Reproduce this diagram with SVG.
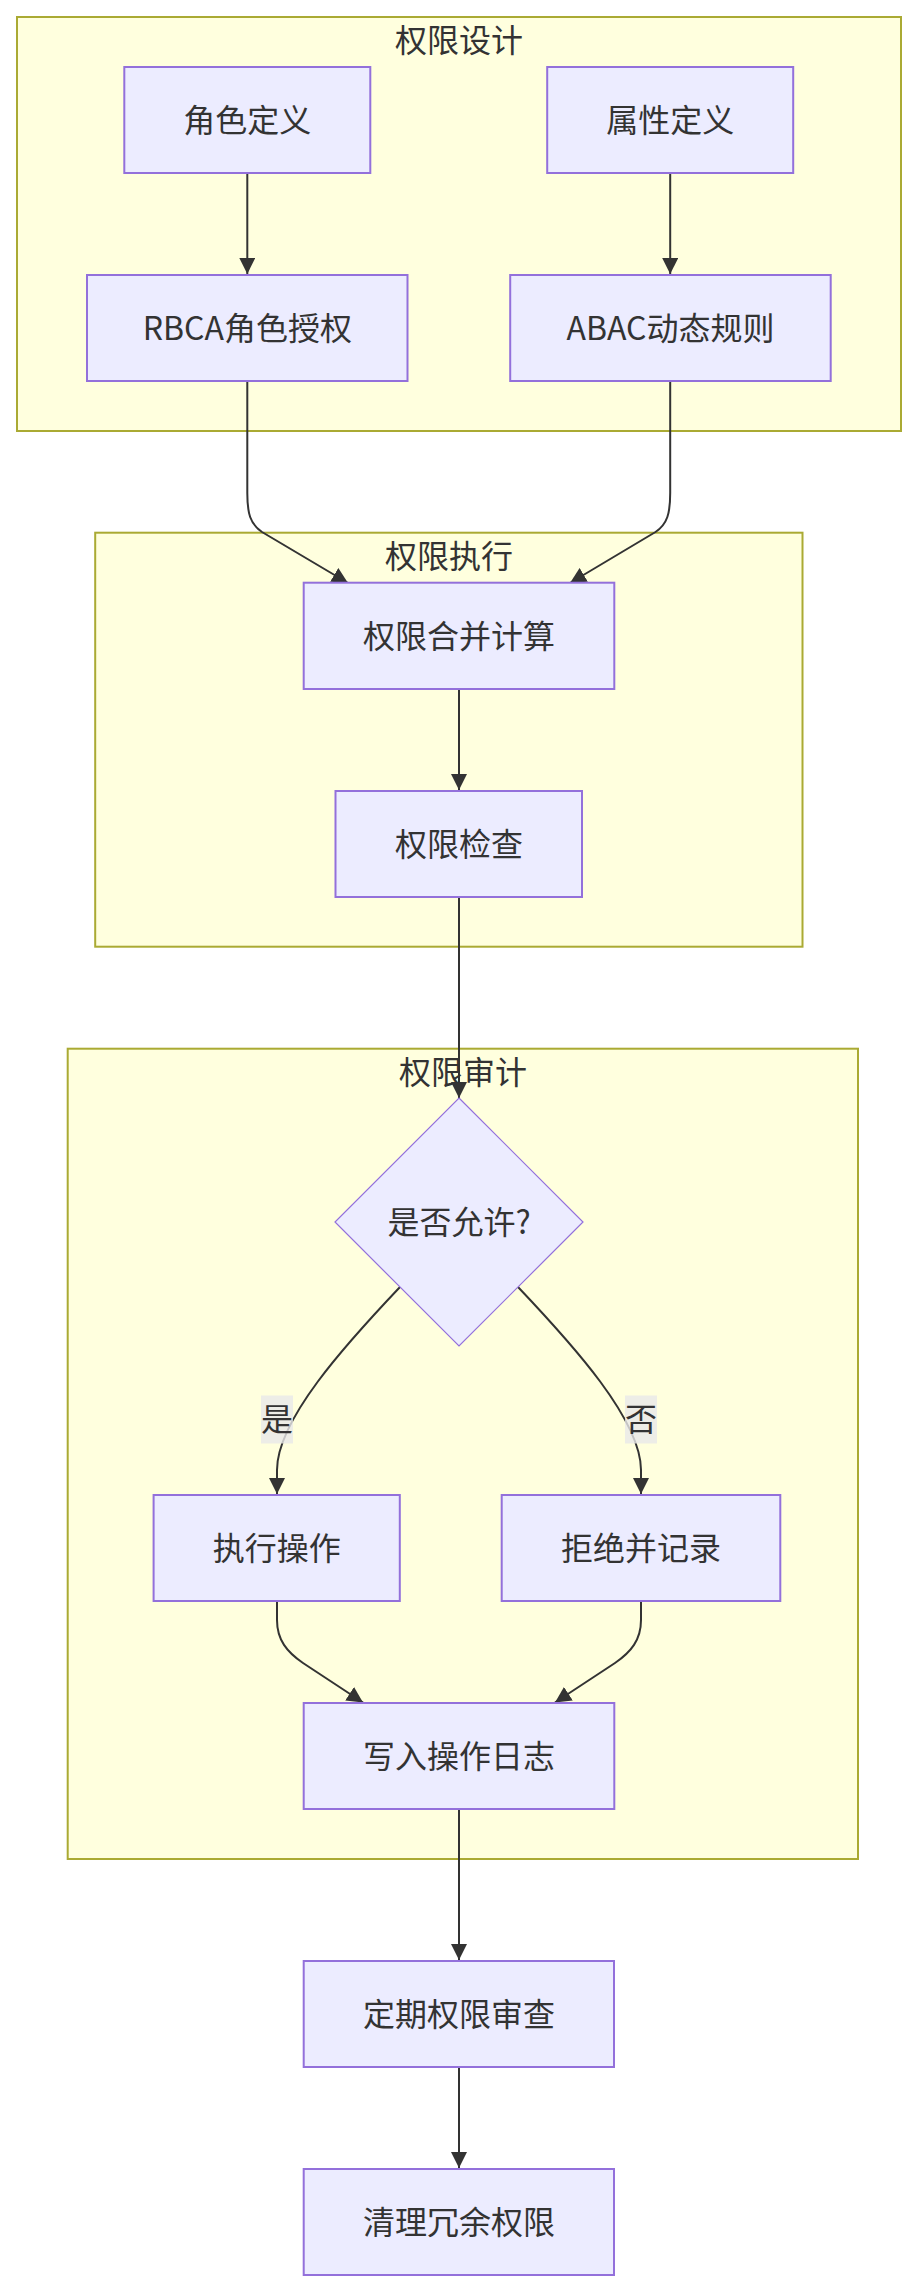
<svg xmlns="http://www.w3.org/2000/svg" width="917" height="2291" viewBox="0 0 917 2291">
<style>
.cluster rect{fill:#ffffde;stroke:#aaaa33;stroke-width:2}
.node rect,.node polygon{fill:#ececff;stroke:#9370db;stroke-width:2}
.node polygon{stroke-width:1.2}
text{font-family:"Noto Sans CJK SC","Noto Sans",sans-serif;font-size:32px;fill:#333333;text-anchor:middle}
.edge{fill:none;stroke:#333333;stroke-width:2;marker-end:url(#arrow)}
.elabel rect{fill:#e8e8e8;fill-opacity:0.8}
</style>
<defs>
<marker id="arrow" viewBox="0 0 10 10" refX="10" refY="5" markerUnits="userSpaceOnUse" markerWidth="16" markerHeight="16" orient="auto">
<path d="M0,0 L10,5 L0,10 z" fill="#333333"/>
</marker>
</defs>
<rect width="917" height="2291" fill="#ffffff"/>
<g id="cluster-design" class="cluster">
<rect x="17" y="17" width="884" height="414"/>
<text x="459" y="51.5">权限设计</text>
</g>
<g id="cluster-exec" class="cluster">
<rect x="95.2" y="532.7" width="707.3" height="414"/>
<text x="449" y="567.5">权限执行</text>
</g>
<g id="cluster-audit" class="cluster">
<rect x="67.7" y="1048.7" width="790.3" height="810.3"/>
<text x="463" y="1083.5">权限审计</text>
</g>
<g id="connectors">
<path class="edge" d="M247.3,174 L247.3,274"/>
<path class="edge" d="M670.2,174 L670.2,274"/>
<path class="edge" d="M247.3,382 L247.3,493 C247.3,513 250,524 262,532 L348,583"/>
<path class="edge" d="M670.2,382 L670.2,493 C670.2,513 667.5,524 655.5,532 L570,583"/>
<path class="edge" d="M459,690 L459,790"/>
<path class="edge" d="M459,898 L459,1098"/>
<path class="edge" d="M400,1287 C345,1345 277,1420 277,1470 L277,1494"/>
<path class="edge" d="M518,1287 C573,1345 641,1420 641,1470 L641,1494"/>
<path class="edge" d="M277,1602 L277,1620 C277,1640 287,1652 303,1663 L363,1702.5"/>
<path class="edge" d="M641,1602 L641,1620 C641,1640 631,1652 615,1663 L555,1702.5"/>
<path class="edge" d="M459,1810 L459,1960"/>
<path class="edge" d="M459,2068 L459,2168"/>
</g>
<g id="edge-labels">
<g id="label-yes" class="elabel">
<rect x="261" y="1395.5" width="32" height="48"/>
<text x="277" y="1431">是</text>
</g>
<g id="label-no" class="elabel">
<rect x="625" y="1395.5" width="32" height="48"/>
<text x="641" y="1431">否</text>
</g>
</g>
<g id="node-role" class="node">
<rect x="124.3" y="67" width="246" height="106"/>
<text x="247.3" y="131.5">角色定义</text>
</g>
<g id="node-attr" class="node">
<rect x="547.2" y="67" width="246" height="106"/>
<text x="670.2" y="131.5">属性定义</text>
</g>
<g id="node-rbca" class="node">
<rect x="87" y="275" width="320.5" height="106"/>
<text x="247.3" y="339.5">RBCA角色授权</text>
</g>
<g id="node-abac" class="node">
<rect x="510.2" y="275" width="320.5" height="106"/>
<text x="670.5" y="339.5">ABAC动态规则</text>
</g>
<g id="node-merge" class="node">
<rect x="303.7" y="582.7" width="310.6" height="106.3"/>
<text x="459" y="647.5">权限合并计算</text>
</g>
<g id="node-check" class="node">
<rect x="335.5" y="791" width="246.5" height="106"/>
<text x="459" y="855.5">权限检查</text>
</g>
<g id="node-decision" class="node">
<polygon points="459,1098 583,1222 459,1346 335,1222"/>
<text x="459" y="1233.5">是否允许?</text>
</g>
<g id="node-do" class="node">
<rect x="153.6" y="1495" width="246.2" height="106"/>
<text x="276.7" y="1559.5">执行操作</text>
</g>
<g id="node-deny" class="node">
<rect x="501.7" y="1495" width="278.6" height="106"/>
<text x="641" y="1559.5">拒绝并记录</text>
</g>
<g id="node-log" class="node">
<rect x="303.7" y="1703" width="310.6" height="106"/>
<text x="459" y="1767.5">写入操作日志</text>
</g>
<g id="node-review" class="node">
<rect x="303.7" y="1961" width="310.3" height="106"/>
<text x="459" y="2025.5">定期权限审查</text>
</g>
<g id="node-clean" class="node">
<rect x="303.7" y="2169" width="310.3" height="106"/>
<text x="459" y="2233.5">清理冗余权限</text>
</g>
</svg>
